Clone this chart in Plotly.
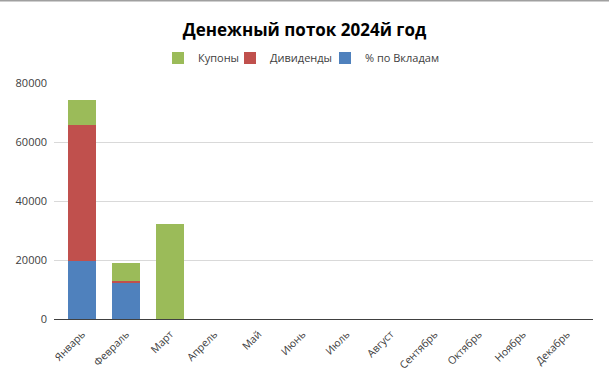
import plotly.graph_objects as go

months = ["Январь", "Февраль", "Март", "Апрель", "Май", "Июнь", "Июль",
          "Август", "Сентябрь", "Октябрь", "Ноябрь", "Декабрь"]
deposits = [19800, 12300, 0, 0, 0, 0, 0, 0, 0, 0, 0, 0]
dividends = [46000, 500, 0, 0, 0, 0, 0, 0, 0, 0, 0, 0]
coupons = [8400, 6200, 32200, 0, 0, 0, 0, 0, 0, 0, 0, 0]
y_ticks = [0, 20000, 40000, 60000, 80000]

W, H = 609, 381
ml, mr, mt, mb = 54, 16, 83, 62
pw, ph = W - ml - mr, H - mt - mb

fig = go.Figure()
fig.add_bar(x=months, y=deposits, name="% по Вкладам", marker_color="#4F81BD",
            marker_line_width=0, legend="legend3", showlegend=True)
fig.add_bar(x=months, y=dividends, name="Дивиденды", marker_color="#C0504D",
            marker_line_width=0, legend="legend2", showlegend=True)
fig.add_bar(x=months, y=coupons, name="Купоны", marker_color="#9BBB59",
            marker_line_width=0, legend="legend", showlegend=True)


def leg(px):
    return dict(orientation="h", x=(px - ml) / pw, xanchor="left",
                y=1 + 25 / ph, yanchor="middle", font=dict(size=11, color="#404040"),
                itemwidth=30, bgcolor="rgba(0,0,0,0)")


fig.update_layout(
    width=W, height=H, showlegend=True,
    barmode="stack", bargap=0.37,
    margin=dict(l=ml, r=mr, t=mt, b=mb, autoexpand=False),
    paper_bgcolor="white", plot_bgcolor="white",
    font=dict(family="Open Sans, Liberation Sans, sans-serif", color="#404040", size=11),
    title=dict(text="<b>Денежный поток 2024й год</b>", x=0.5, xanchor="center",
               y=1 - 30 / H, yanchor="middle",
               font=dict(size=17, color="#000000", family="Open Sans, sans-serif")),
    legend=leg(158), legend2=leg(230), legend3=leg(325),
    xaxis=dict(range=[-0.64, 11.59], tickangle=-45, showgrid=False, automargin=False,
               showline=True, linecolor="#404040", linewidth=1,
               tickfont=dict(size=10.5, color="#404040"), ticks="", ticklabelstandoff=4),
    yaxis=dict(range=[0, 80000], tickvals=y_ticks, ticktext=[str(v) for v in y_ticks],
               showgrid=True, gridcolor="#D9D9D9", automargin=False,
               zeroline=False, showline=False, tickfont=dict(size=11, color="#404040"),
               ticks="", ticklabelstandoff=6),
    shapes=[dict(type="line", xref="paper", yref="paper",
                 x0=-ml / pw, x1=1 + mr / pw, y0=1 + mt / ph - 0.5 / ph, y1=1 + mt / ph - 0.5 / ph,
                 line=dict(color="#A0A0A0", width=2))],
)

fig.write_html("out.html")
